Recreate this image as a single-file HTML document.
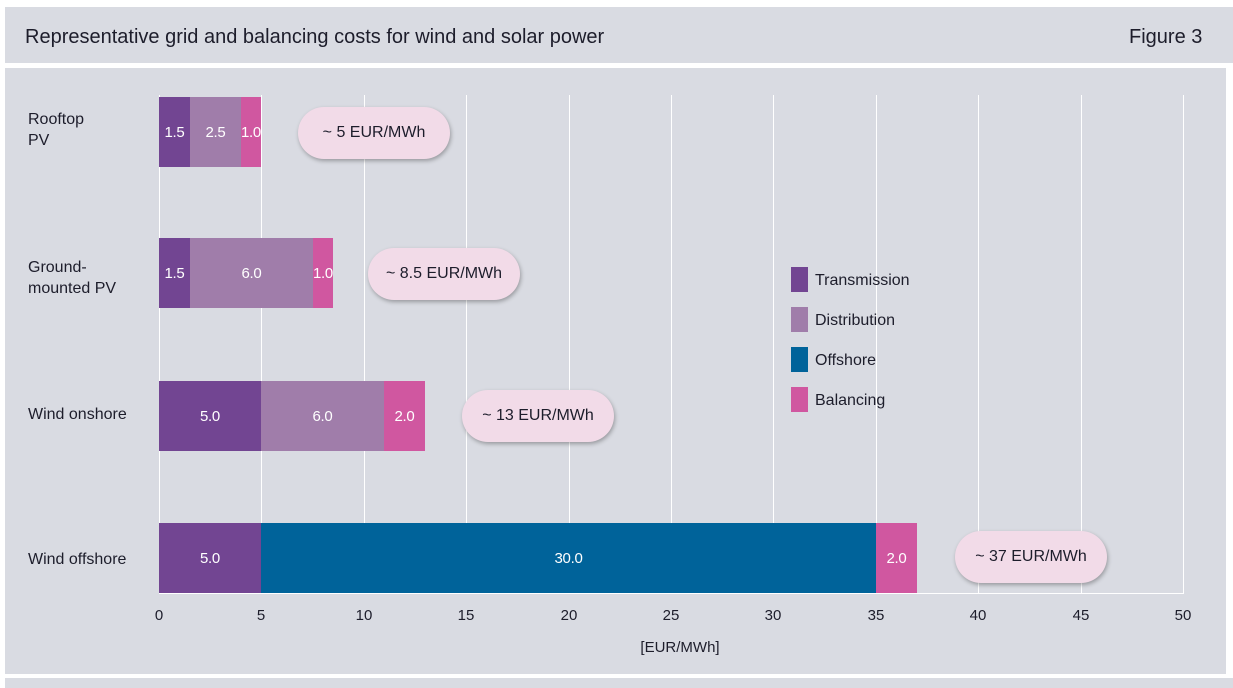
<!DOCTYPE html>
<html><head><meta charset="utf-8"><style>
body{margin:0;width:1233px;height:681px;background:#fff;position:relative;overflow:hidden;font-family:"Liberation Sans",sans-serif;color:#1d1d2b}
.a{position:absolute}
.hdr{left:5px;top:7px;width:1228px;height:56px;background:#d9dbe2}
.pan{left:5px;top:68px;width:1221px;height:606px;background:#d9dbe2}
.bot{left:5px;top:678px;width:1228px;height:10px;background:#d9dbe2}
.g{width:1px;background:#fff;top:95px;height:499px}
.s{height:70px;color:#fff;font-size:15px;display:flex;align-items:center;justify-content:center;letter-spacing:-0.3px}
.T{background:#724592}.D{background:#a07daa}.O{background:#00639a}.B{background:#d057a0}
.pill{background:#f2dbe8;border-radius:26px;height:52px;width:152px;box-shadow:1px 2px 4px rgba(0,0,0,.3);display:flex;align-items:center;justify-content:center;font-size:16px}
.lab{font-size:16px;line-height:21px;left:28px}
.tk{font-size:15px;top:607px;width:40px;text-align:center}
.lg{width:17px;height:25px;left:791px}
.lt{left:815px;font-size:16px}
</style></head><body>
<div class="a hdr"></div><div class="a pan"></div><div class="a bot"></div>
<div class="a" style="left:25px;top:26px;font-size:20px">Representative grid and balancing costs for wind and solar power</div>
<div class="a" style="left:1129px;top:26px;font-size:20px">Figure 3</div>
<div class="a g" style="left:159px"></div><div class="a g" style="left:261px"></div><div class="a g" style="left:364px"></div><div class="a g" style="left:466px"></div><div class="a g" style="left:569px"></div><div class="a g" style="left:671px"></div><div class="a g" style="left:773px"></div><div class="a g" style="left:876px"></div><div class="a g" style="left:978px"></div><div class="a g" style="left:1081px"></div><div class="a g" style="left:1183px"></div>
<div class="a" style="left:159px;top:593px;width:1025px;height:1px;background:#fff"></div>
<div class="a lab" style="top:109px">Rooftop<br>PV</div>
<div class="a lab" style="top:257px">Ground-<br>mounted PV</div>
<div class="a lab" style="top:404px">Wind onshore</div>
<div class="a lab" style="top:549px">Wind offshore</div>
<div class="a s T" style="left:159px;top:97px;width:31px">1.5</div><div class="a s D" style="left:190px;top:97px;width:51px">2.5</div><div class="a s B" style="left:241px;top:97px;width:20px">1.0</div>
<div class="a s T" style="left:159px;top:238px;width:31px">1.5</div><div class="a s D" style="left:190px;top:238px;width:123px">6.0</div><div class="a s B" style="left:313px;top:238px;width:20px">1.0</div>
<div class="a s T" style="left:159px;top:381px;width:102px">5.0</div><div class="a s D" style="left:261px;top:381px;width:123px">6.0</div><div class="a s B" style="left:384px;top:381px;width:41px">2.0</div>
<div class="a s T" style="left:159px;top:523px;width:102px">5.0</div><div class="a s O" style="left:261px;top:523px;width:615px">30.0</div><div class="a s B" style="left:876px;top:523px;width:41px">2.0</div>
<div class="a pill" style="left:298px;top:107px">~ 5 EUR/MWh</div>
<div class="a pill" style="left:368px;top:248px">~ 8.5 EUR/MWh</div>
<div class="a pill" style="left:462px;top:390px">~ 13 EUR/MWh</div>
<div class="a pill" style="left:955px;top:531px">~ 37 EUR/MWh</div>
<div class="a lg T" style="top:267px"></div><div class="a lt" style="top:272px">Transmission</div>
<div class="a lg D" style="top:307px"></div><div class="a lt" style="top:312px">Distribution</div>
<div class="a lg O" style="top:347px"></div><div class="a lt" style="top:352px">Offshore</div>
<div class="a lg B" style="top:387px"></div><div class="a lt" style="top:392px">Balancing</div>
<div class="a tk" style="left:139px">0</div><div class="a tk" style="left:241px">5</div><div class="a tk" style="left:344px">10</div><div class="a tk" style="left:446px">15</div><div class="a tk" style="left:549px">20</div><div class="a tk" style="left:651px">25</div><div class="a tk" style="left:753px">30</div><div class="a tk" style="left:856px">35</div><div class="a tk" style="left:958px">40</div><div class="a tk" style="left:1061px">45</div><div class="a tk" style="left:1163px">50</div>
<div class="a" style="left:620px;top:639px;width:120px;text-align:center;font-size:15px">[EUR/MWh]</div>
</body></html>
